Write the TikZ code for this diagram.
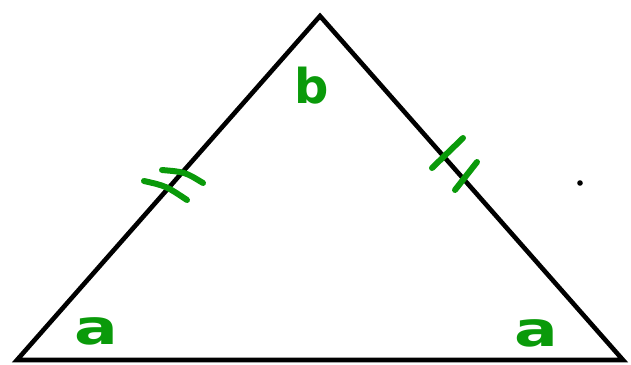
\documentclass[tikz,border=0pt]{standalone}
\usepackage{fontspec}
\setmainfont{DejaVu Sans}
\usetikzlibrary{positioning}
\definecolor{markgreen}{HTML}{0A9A0A}

\begin{document}
\begin{tikzpicture}[
  x=1pt, y=-1pt,
  side/.style={draw=black, line width=4.6pt, line join=miter},
  tickmark/.style={draw=markgreen, line width=6pt, line cap=round},
  anglelabel/.style={text=markgreen, inner sep=0pt, font=\fontsize{48}{48}\selectfont\bfseries}
]
\useasboundingbox (0,0) rectangle (631,364);

\coordinate (left) at (17,360);
\coordinate (apex) at (320,16);
\coordinate (right) at (623,360);

\draw[side] (left) -- (apex) -- (right) -- cycle;

% equal sides
\draw[tickmark] (162,170) .. controls (185,172) .. (203,183);
\draw[tickmark] (144,181) .. controls (166,186) .. (187,200);
\draw[tickmark] (432,168) -- (463,138);
\draw[tickmark] (455,190) -- (477,162);

\node[anglelabel] (topb) at (312,86) {b};
\node[anglelabel, xscale=1.35] (lefta) at (96,331) {a};
\node[anglelabel, xscale=1.35] (righta) at (536,333) {a};

\fill (580,183) circle (2.8);
\end{tikzpicture}
\end{document}
